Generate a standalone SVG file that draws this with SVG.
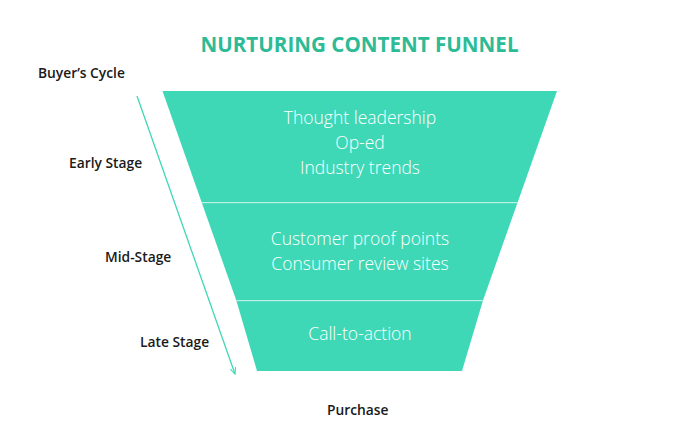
<svg xmlns="http://www.w3.org/2000/svg" width="690" height="438" viewBox="0 0 690 438">
<style>
.lbl{font-family:"Open Sans","Liberation Sans",sans-serif;font-weight:600;font-size:13.8px;fill:#1a1a1a}
.in{font-family:"Open Sans","Liberation Sans",sans-serif;font-weight:300;font-size:17.5px;fill:#ffffff;text-anchor:middle}
.title{font-family:"Open Sans","Liberation Sans",sans-serif;font-weight:700;font-size:20.6px;fill:#2dbb96;text-anchor:middle}
.seg{fill:#3ed8b7}
.div{stroke:#ffffff;stroke-width:1;opacity:0.7}
</style>
<defs>
<marker id="ah" viewBox="0 0 10 10" refX="9" refY="5" markerWidth="7" markerHeight="7" orient="auto" markerUnits="userSpaceOnUse">
<path d="M0,1 L9,5 L0,9" fill="none" stroke="#3ed8b7" stroke-width="1.5"/>
</marker>
</defs>
<rect width="690" height="438" fill="#ffffff"/>
<text class="title" x="359.5" y="52">NURTURING CONTENT FUNNEL</text>
<g id="labels">
<text class="lbl" x="38" y="78">Buyer’s Cycle</text>
<text class="lbl" x="69" y="168">Early Stage</text>
<text class="lbl" x="105" y="262">Mid-Stage</text>
<text class="lbl" x="140" y="347">Late Stage</text>
<text class="lbl" x="327" y="415">Purchase</text>
</g>
<g id="connectors">
<line x1="137" y1="96" x2="235" y2="374" stroke="#3ed8b7" stroke-width="1.3" marker-end="url(#ah)"/>
</g>
<g id="funnel-top">
<polygon class="seg" points="162.5,91 557,91 517.5,202.7 201.8,202.7"/>
<text class="in" x="360" y="124">Thought leadership</text>
<text class="in" x="360" y="149">Op-ed</text>
<text class="in" x="360" y="174">Industry trends</text>
</g>
<g id="funnel-mid">
<polygon class="seg" points="201.8,202.7 517.5,202.7 482.9,300.7 236.4,300.7"/>
<text class="in" x="360" y="245">Customer proof points</text>
<text class="in" x="360" y="270">Consumer review sites</text>
</g>
<g id="funnel-bottom">
<polygon class="seg" points="236.4,300.7 482.9,300.7 462,371 257,371"/>
<text class="in" x="360" y="340">Call-to-action</text>
</g>
<line class="div" x1="201.8" y1="202.7" x2="517.5" y2="202.7"/>
<line class="div" x1="236.4" y1="300.7" x2="482.9" y2="300.7"/>
</svg>
